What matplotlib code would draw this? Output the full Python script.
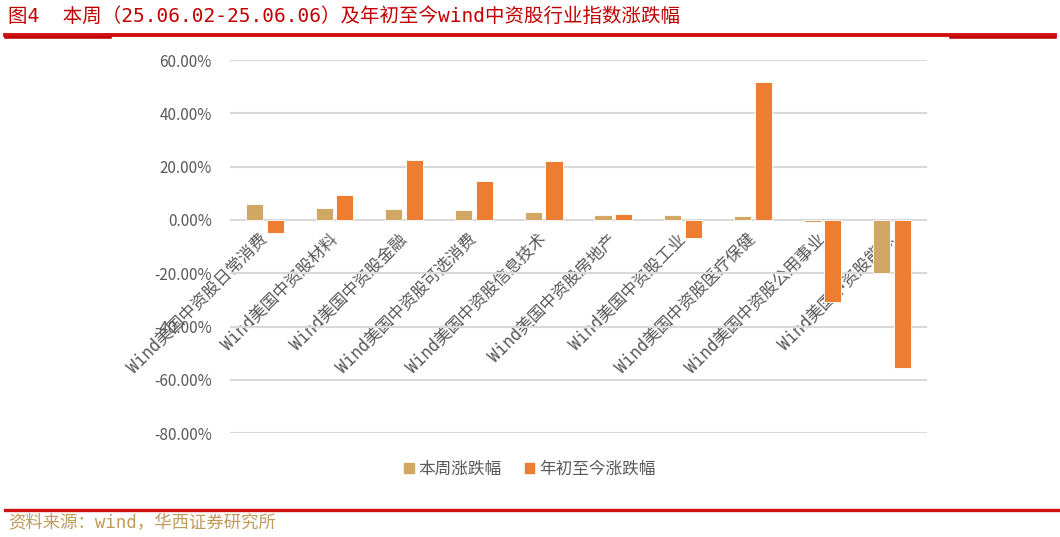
import numpy as np
import matplotlib
matplotlib.use("Agg")
import matplotlib.pyplot as plt
from matplotlib.lines import Line2D
from matplotlib.patches import Patch
from matplotlib.ticker import FuncFormatter

plt.rcParams['font.family'] = ['Noto Sans CJK SC', 'DejaVu Sans']
song = ['DejaVu Sans Mono', 'Noto Sans CJK SC']   # wide latin + CJK, closer to the original

categories = ['Wind美国中资股日常消费', 'Wind美国中资股材料', 'Wind美国中资股金融',
              'Wind美国中资股可选消费', 'Wind美国中资股信息技术', 'Wind美国中资股房地产',
              'Wind美国中资股工业', 'Wind美国中资股医疗保健', 'Wind美国中资股公用事业',
              'Wind美国中资股能源']
week_chg = [5.9, 4.6, 4.1, 3.6, 3.0, 1.9, 1.9, 1.4, -0.9, -20.0]     # 本周涨跌幅 %
ytd_chg = [-5.0, 9.4, 22.5, 14.6, 22.1, 2.1, -6.6, 51.9, -30.6, -55.6]  # 年初至今涨跌幅 %
series_names = ['本周涨跌幅', '年初至今涨跌幅']

c_week = '#D0A763'
c_ytd = '#ED7D31'
grey = '#595959'
red = '#C00000'

W, H = 1060, 537
fig = plt.figure(figsize=(W / 100, H / 100), dpi=100)
ax = fig.add_axes([230 / W, 1 - 433.3 / H, 697 / W, (433.3 - 60) / H])

x = np.arange(len(categories))
off, bw = 0.148, 0.245
ax.bar(x - off, np.array(week_chg) / 100, bw, color=c_week, edgecolor='white', linewidth=0.6, zorder=3)
ax.bar(x + off, np.array(ytd_chg) / 100, bw, color=c_ytd, edgecolor='white', linewidth=0.6, zorder=3)

ax.set_xlim(-0.5, len(categories) - 0.5)
ax.set_ylim(-0.8, 0.6)
ax.set_yticks(np.arange(-0.8, 0.61, 0.2))
ax.yaxis.set_major_formatter(FuncFormatter(lambda v, p: f'{round(v * 100, 2) + 0:.2f}%'))
ax.grid(axis='y', color='#D9D9D9', linewidth=1.5, zorder=0)
for s in ['top', 'right', 'left']:
    ax.spines[s].set_visible(False)
ax.spines['bottom'].set_position(('data', 0))
ax.spines['bottom'].set_visible(False)
ax.tick_params(axis='y', length=0, labelsize=11, labelcolor=grey, pad=13)
ax.tick_params(axis='x', length=0, labelsize=12, labelcolor=grey, pad=12)
ax.set_xticks(x)
ax.set_xticklabels(categories, rotation=45, ha='right', va='center', rotation_mode='anchor',
                   family=song)

handles = [Patch(color=c_week), Patch(color=c_ytd)]
fig.legend(handles, series_names, loc='center', bbox_to_anchor=(530 / W, 1 - 469 / H), ncol=2,
           frameon=False, handlelength=0.55, handleheight=0.55, handletextpad=0.3,
           columnspacing=1.4, labelcolor=grey, prop={'family': song, 'size': 12})

fig.text(8 / W, 1 - 16 / H, '图4  本周（25.06.02-25.06.06）及年初至今wind中资股行业指数涨跌幅',
         color=red, fontsize=14, va='center', family=song)
fig.add_artist(Line2D([5 / W, 1055 / W], [1 - 34.5 / H] * 2, color='#D01010', lw=2.8))
fig.add_artist(Line2D([5 / W, 110 / W], [1 - 36.5 / H] * 2, color=red, lw=1.8))
fig.add_artist(Line2D([950 / W, 1055 / W], [1 - 36.5 / H] * 2, color=red, lw=1.8))
fig.add_artist(Line2D([5 / W, 1060 / W], [1 - 510 / H] * 2, color='#D01010', lw=2.4))
fig.text(8 / W, 1 - 523 / H, '资料来源：wind，华西证券研究所', color='#C09A5B', fontsize=12.5,
         va='center', family=song)

fig.savefig('out.png', dpi=100)
